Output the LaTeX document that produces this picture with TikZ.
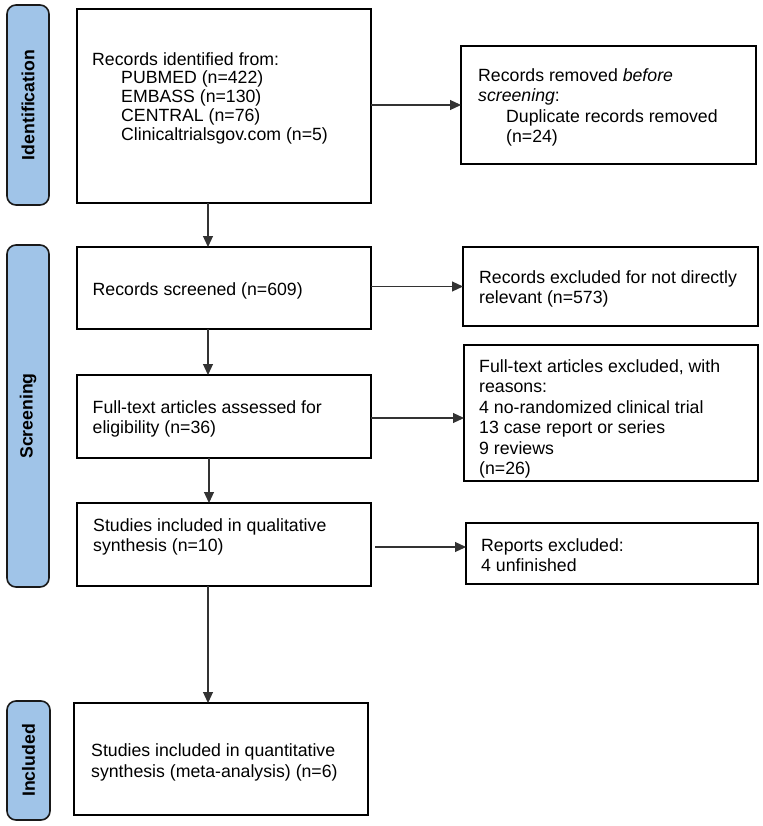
\documentclass[tikz,border=0pt]{standalone}
\usepackage{fontspec}
\setmainfont{Liberation Sans}
\usetikzlibrary{arrows.meta,calc}
\definecolor{pillblue}{HTML}{A0C4E8}
\definecolor{linegray}{HTML}{333333}
\begin{document}
\begin{tikzpicture}[x=1pt,y=-1pt,
  box/.style={draw=black, line width=1.6pt, inner sep=0pt, outer sep=0pt},
  txt/.style={font=\fontsize{17.7}{20.5}\selectfont, align=left, inner sep=0pt, anchor=west},
  pill/.style={draw=black!90, line width=1.6pt, fill=pillblue, rounded corners=9pt,
    inner sep=0pt, rotate=90, font=\fontsize{17.7}{20}\selectfont\bfseries},
  arr/.style={draw=linegray, line width=1.1pt, -{Triangle[length=11pt,width=10pt]}}]
\useasboundingbox (0,0) rectangle (762,826);

% phase labels
\node[pill, minimum width=200pt, minimum height=42pt] (p1) at (28,105) {Identification};
\node[pill, minimum width=342pt, minimum height=42pt] (p2) at (28,416) {Screening};
\node[pill, minimum width=119pt, minimum height=43pt] (p3) at (28.5,760.5) {Included};

% boxes
\node[box, minimum width=294pt, minimum height=194pt] (b1) at (224,106) {};
\node[box, minimum width=295pt, minimum height=118pt] (b2) at (608.5,105) {};
\node[box, minimum width=294pt, minimum height=82pt]  (b3) at (224,288) {};
\node[box, minimum width=295pt, minimum height=79pt]  (b4) at (610.5,286.5) {};
\node[box, minimum width=294pt, minimum height=83pt]  (b5) at (224,416.5) {};
\node[box, minimum width=294pt, minimum height=136pt] (b6) at (611,413) {};
\node[box, minimum width=294pt, minimum height=83pt]  (b7) at (224,544.5) {};
\node[box, minimum width=292pt, minimum height=61pt]  (b8) at (612,553.5) {};
\node[box, minimum width=294pt, minimum height=112pt] (b9) at (221,759) {};

% texts
\node[txt, font=\fontsize{17.7}{18.75}\selectfont] (t1) at (92,98) {Records identified from:\\
  \hspace*{29pt}PUBMED (n=422)\\
  \hspace*{29pt}EMBASS (n=130)\\
  \hspace*{29pt}CENTRAL (n=76)\\
  \hspace*{29pt}Clinicaltrialsgov.com (n=5)};
\node[txt] (t2) at (478,107.5) {Records removed \textit{before}\\
  \textit{screening}:\\
  \hspace*{28pt}Duplicate records removed\\
  \hspace*{28pt}(n=24)};
\node[txt] (t3) at (92.5,291) {Records screened (n=609)};
\node[txt] (t4) at (479,289) {Records excluded for not directly\\relevant (n=573)};
\node[txt] (t5) at (92.5,419) {Full-text articles assessed for\\eligibility (n=36)};
\node[txt] (t6) at (479,419) {Full-text articles excluded, with\\reasons:\\4 no-randomized clinical trial\\13 case report or series\\9 reviews\\(n=26)};
\node[txt] (t7) at (93,537) {Studies included in qualitative\\synthesis (n=10)};
\node[txt] (t8) at (481,555) {Reports excluded:\\4 unfinished};
\node[txt] (t9) at (91,762.5) {Studies included in quantitative\\synthesis (meta-analysis) (n=6)};

% connectors
\coordinate (cx) at (208,0);
\coordinate (cx2) at (209,0);
\draw[arr] (b1.south -| cx) -- (b3.north -| cx);
\draw[arr] (b1.east |- b2.west) -- (b2.west);
\draw[arr] (b3.east |- b4.west) -- (b4.west);
\draw[arr] (b3.south -| cx) -- (b5.north -| cx);
\coordinate (r5) at ($(b5.east)+(0,1.5)$);
\draw[arr] (r5) -- (r5 -| b6.west);
\draw[arr] (b5.south -| cx2) -- (b7.north -| cx2);
\coordinate (r7) at ($(b7.east)+(4,2.5)$);
\draw[arr] (r7) -- (r7 -| b8.west);
\draw[arr] (b7.south -| cx) -- (b9.north -| cx);
\end{tikzpicture}
\end{document}
